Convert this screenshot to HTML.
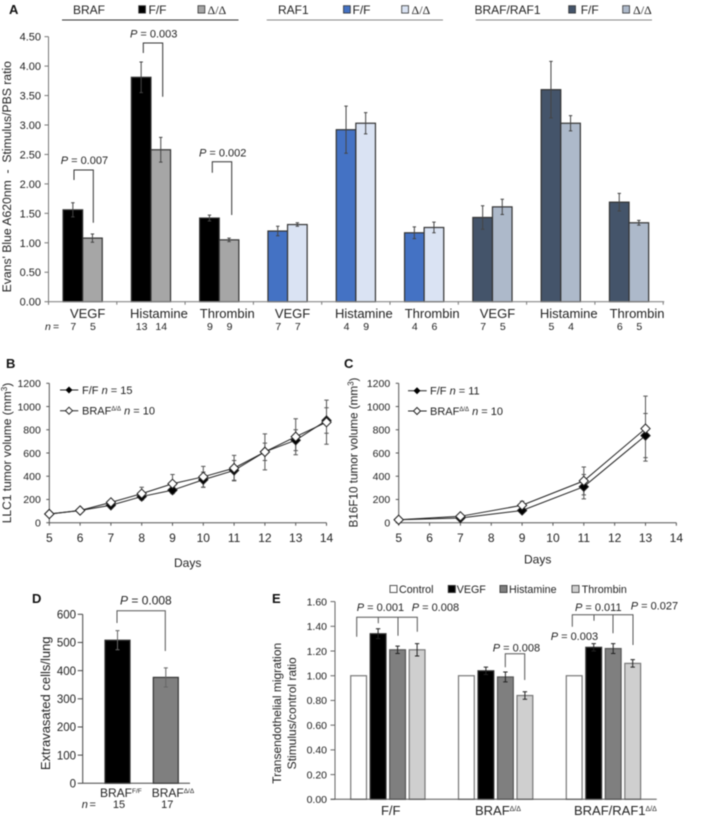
<!DOCTYPE html>
<html lang="en">
<head>
<meta charset="utf-8">
<title>BRAF and RAF1 vascular permeability figure</title>
<style>
html,body{margin:0;padding:0;background:#fff;}
svg{display:block;filter:blur(0.4px);}
text{font-family:"Liberation Sans",sans-serif;fill:#222;}
.lab{font-weight:bold;font-size:13px;fill:#111;}
.p{font-size:11px;}
.i{font-style:italic;}
.dl{font-family:"Liberation Serif",serif;}
.br{fill:none;stroke:#333;stroke-width:1;}
.brg{fill:none;stroke:#555;stroke-width:1;}
</style>
</head>
<body>
<svg id="fig" xmlns="http://www.w3.org/2000/svg" width="709" height="819" viewBox="0 0 709 819">
<g>
<text class="lab" x="9" y="14">A</text>
<text x="73" y="14" font-size="12">BRAF</text>
<rect x="138.7" y="5.7" width="6.8" height="7.4" fill="#000" stroke="#333" stroke-width="0.8"/>
<text x="148.5" y="14" font-size="12">F/F</text>
<rect x="198" y="5.7" width="6.8" height="7.4" fill="#a6a6a6" stroke="#333" stroke-width="0.8"/>
<text class="dl" x="207.5" y="14" font-size="12">Δ/Δ</text>
<line x1="62" y1="20" x2="238.5" y2="20" stroke="#333" stroke-width="1"/>
<text x="278" y="14" font-size="12">RAF1</text>
<rect x="343.5" y="5.7" width="6.8" height="7.4" fill="#4472c4" stroke="#333" stroke-width="0.8"/>
<text x="352.5" y="14" font-size="12">F/F</text>
<rect x="401.7" y="5.7" width="6.8" height="7.4" fill="#dae3f3" stroke="#333" stroke-width="0.8"/>
<text class="dl" x="411.5" y="14" font-size="12">Δ/Δ</text>
<line x1="266.7" y1="20" x2="443" y2="20" stroke="#888" stroke-width="1"/>
<text x="474.5" y="14" font-size="12">BRAF/RAF1</text>
<rect x="568.7" y="5.7" width="6.8" height="7.4" fill="#44546a" stroke="#333" stroke-width="0.8"/>
<text x="580.7" y="14" font-size="12">F/F</text>
<rect x="622.7" y="5.7" width="6.8" height="7.4" fill="#adb9ca" stroke="#333" stroke-width="0.8"/>
<text class="dl" x="633" y="14" font-size="12">Δ/Δ</text>
<line x1="475.7" y1="20" x2="652" y2="20" stroke="#888" stroke-width="1"/>
<text transform="translate(11,176.7) rotate(-90)" text-anchor="middle" font-size="12.2">Evans' Blue A620nm &#160;- &#160;Stimulus/PBS ratio</text>
<text class="p" x="60.7" y="164"><tspan class="i">P</tspan> = 0.007</text>
<path class="br" d="M74 180V170H93.3V222.7"/>
<text class="p" x="130" y="37.5"><tspan class="i">P</tspan> = 0.003</text>
<path class="br" d="M143.3 53V43H162.7V96.7"/>
<text class="p" x="199" y="156.5"><tspan class="i">P</tspan> = 0.002</text>
<path class="br" d="M212.3 172.7V161.7H231.7V215"/>
<text class="i" x="45" y="330" font-size="10.5">n</text>
<text x="53" y="330" font-size="10.5">=</text>
</g>
<g>
<text class="lab" x="6" y="368">B</text>
<text transform="translate(11,453) rotate(-90)" text-anchor="middle" font-size="12">LLC1 tumor volume (mm<tspan font-size="8" dy="-4">3</tspan><tspan dy="4">)</tspan></text>
<text x="187.7" y="567" text-anchor="middle" font-size="12">Days</text>
<line x1="60" y1="390" x2="78.3" y2="390" stroke="#222"/>
<path d="M69 386.5L72.5 390L69 393.5L65.5 390Z" fill="#000"/>
<text x="82" y="394" font-size="11">F/F <tspan class="i">n</tspan> = 15</text>
<line x1="60" y1="410.7" x2="78.3" y2="410.7" stroke="#222"/>
<path d="M69 407.2L72.5 410.7L69 414.2L65.5 410.7Z" fill="#fff" stroke="#222"/>
<text x="82" y="414.7" font-size="11">BRAF<tspan font-size="6" dy="-4">Δ/Δ</tspan><tspan dy="4"> </tspan><tspan class="i">n</tspan> = 10</text>
</g>
<g>
<text class="lab" x="344" y="368">C</text>
<text transform="translate(357.5,452.5) rotate(-90)" text-anchor="middle" font-size="11.7">B16F10 tumor volume (mm<tspan font-size="8" dy="-4">3</tspan><tspan dy="4">)</tspan></text>
<text x="537.7" y="563.5" text-anchor="middle" font-size="12">Days</text>
<line x1="408" y1="390.7" x2="426.7" y2="390.7" stroke="#222"/>
<path d="M417 387.2L420.5 390.7L417 394.2L413.5 390.7Z" fill="#000"/>
<text x="430" y="394.7" font-size="11">F/F <tspan class="i">n</tspan> = 11</text>
<line x1="408" y1="411" x2="426.7" y2="411" stroke="#222"/>
<path d="M417 407.5L420.5 411L417 414.5L413.5 411Z" fill="#fff" stroke="#222"/>
<text x="430" y="415" font-size="11">BRAF<tspan font-size="6" dy="-4">Δ/Δ</tspan><tspan dy="4"> </tspan><tspan class="i">n</tspan> = 10</text>
</g>
<g>
<text class="lab" x="32" y="603">D</text>
<text transform="translate(50,703.3) rotate(-90)" text-anchor="middle" font-size="13">Extravasated cells/lung</text>
<text x="120" y="604.5" font-size="12"><tspan class="i">P</tspan> = 0.008</text>
<path class="brg" d="M117 623V610.7H165.3V651"/>
<text class="i" x="81.7" y="808" font-size="11">n</text>
<text x="89.5" y="808" font-size="11">=</text>
</g>
<g>
<text class="lab" x="272" y="603">E</text>
<text transform="translate(281,713.3) rotate(-90)" text-anchor="middle" font-size="12">Transendothelial migration</text>
<text transform="translate(296,713.3) rotate(-90)" text-anchor="middle" font-size="12">Stimulus/control ratio</text>
<rect x="390" y="585.5" width="7" height="7" fill="#fff" stroke="#555"/>
<text x="399" y="593" font-size="10.7">Control</text>
<rect x="448.3" y="585.5" width="7" height="7" fill="#000" stroke="#333"/>
<text x="456.7" y="593" font-size="10.7">VEGF</text>
<rect x="500" y="585.5" width="7" height="7" fill="#7f7f7f" stroke="#444"/>
<text x="509" y="593" font-size="10.7">Histamine</text>
<rect x="572" y="585.5" width="7" height="7" fill="#cfcfcf" stroke="#555"/>
<text x="581.7" y="593" font-size="10.7">Thrombin</text>
<text class="p" x="356.7" y="611"><tspan class="i">P</tspan> = 0.001</text>
<text class="p" x="411.7" y="611"><tspan class="i">P</tspan> = 0.008</text>
<path class="brg" d="M356.7 636.7V617.3H417.3V631.7M378.3 617.3V623.3M398 617.3V635.7"/>
<text class="p" x="492.7" y="651.5"><tspan class="i">P</tspan> = 0.008</text>
<path class="brg" d="M505.3 667.3V653.7H524.7V680"/>
<text class="p" x="575" y="611"><tspan class="i">P</tspan> = 0.011</text>
<text class="p" x="630.7" y="609.7"><tspan class="i">P</tspan> = 0.027</text>
<text class="p" x="550.7" y="640"><tspan class="i">P</tspan> = 0.003</text>
<path class="brg" d="M572.3 626.7V614.7H633V645M594 614.7V620.7M613 614.7V633.3"/>
</g>
</svg>
<script>
// Panel A data
const aCategories = ['VEGF','Histamine','Thrombin','VEGF','Histamine','Thrombin','VEGF','Histamine','Thrombin'];
const aFF = [1.56,3.81,1.42,1.20,2.92,1.17,1.43,3.60,1.69];
const aDD = [1.08,2.58,1.05,1.31,3.03,1.26,1.61,3.03,1.34];
const aFFerr = [0.12,0.26,0.05,0.08,0.40,0.10,0.20,0.48,0.15];
const aDDerr = [0.07,0.21,0.03,0.03,0.18,0.09,0.13,0.13,0.04];
const aNFF = ['7','13','9','7','4','4','7','5','6'];
const aNDD = ['5','14','9','7','9','6','5','4','5'];
const aYTicks = ['0.00','0.50','1.00','1.50','2.00','2.50','3.00','3.50','4.00','4.50'];
// Panel B data
const bDays = [5,6,7,8,9,10,11,12,13,14];
const bFF = [75,105,150,225,280,370,450,610,710,880];
const bDD = [75,105,175,250,335,395,470,610,740,865];
const bFFerr = [0,0,15,30,30,65,85,75,90,110];
const bDDerr = [0,0,20,55,80,90,110,155,155,190];
const lineYTicks = ['0','200','400','600','800','1000','1200'];
const lineXTicks = ['5','6','7','8','9','10','11','12','13','14'];
// Panel C data
const cDays = [5,7,9,11,13];
const cFF = [25,40,105,310,750];
const cDD = [25,55,150,360,810];
const cFFerr = [0,10,20,105,190];
const cDDerr = [0,10,35,120,280];
// Panel D data
const dValues = [508,376];
const dErr = [34,34];
const dN = ['15','17'];
const dYTicks = ['0','100','200','300','400','500','600'];
// Panel E data
const eGroups = ['F/F','BRAF','BRAF/RAF1'];
const eControl = [1.00,1.00,1.00];
const eVEGF = [1.34,1.04,1.23];
const eHistamine = [1.21,0.99,1.22];
const eThrombin = [1.21,0.84,1.10];
const eVEGFerr = [0.04,0.03,0.03];
const eHistamineErr = [0.03,0.04,0.04];
const eThrombinErr = [0.05,0.03,0.03];
const eYTicks = ['0.00','0.20','0.40','0.60','0.80','1.00','1.20','1.40','1.60'];

const svg = document.getElementById('fig');
const NS = 'http://www.w3.org/2000/svg';
function mk(parent, tag, props, txt) {
  const el = document.createElementNS(NS, tag);
  for (const k in props) el.setAttribute(k, props[k]);
  if (txt !== undefined) el.textContent = txt;
  parent.appendChild(el);
  return el;
}
function grp(name) {
  const g = mk(svg, 'g', {});
  
  
  return g;
}
function bar(g, x, w, y0, yv, fill, stroke, name) {
  const el = mk(g, 'rect', {x: x, y: yv, width: w, height: y0 - yv, fill: fill, stroke: stroke, 'stroke-width': 1.2});
  
  
}
function err(g, x, yt, yb, cap, color, name) {
  const el = mk(g, 'path', {d: 'M' + (x - cap) + ' ' + yt + 'H' + (x + cap) + 'M' + x + ' ' + yt + 'V' + yb + 'M' + (x - cap) + ' ' + yb + 'H' + (x + cap), fill: 'none', stroke: color, 'stroke-width': 1});
  
  
}
function yAxis(g, labels, yf, ax, top, size, labelX, tickLen, color, name) {
  const line = mk(g, 'line', {x1: ax, y1: yf(parseFloat(labels[labels.length - 1])), x2: ax, y2: yf(parseFloat(labels[0])), stroke: color});
  
  
  labels.forEach(function (t) {
    const y = yf(parseFloat(t));
    const tick = mk(g, 'line', {x1: ax - tickLen, y1: y, x2: ax, y2: y, stroke: color});
    
    
    const lab = mk(g, 'text', {x: labelX, y: y + size * 0.36, 'text-anchor': 'end', 'font-size': size}, t);
    
    
  });
}
function txt(g, x, y, size, s, name, anchor) {
  const el = mk(g, 'text', {x: x, y: y, 'font-size': size, 'text-anchor': anchor || 'middle'}, s);
  
  
  return el;
}

// ---------- Panel A ----------
(function () {
  const g = grp('panel-a-chart');
  const y = function (v) { return 301.7 - v * 58.9; };
  const step = 68.3, x0 = 48.5, bw = 19.6;
  const cx = function (i) { return x0 + step * (i + 0.5); };
  const ffColors = ['#000000','#4472c4','#44546a'];
  const ddColors = ['#a6a6a6','#dae3f3','#adb9ca'];
  const labelOffset = {VEGF: 5, Histamine: 8, Thrombin: 8};
  aCategories.forEach(function (c, i) {
    const col = Math.floor(i / 3);
    const m = cx(i);
    bar(g, m - bw, bw, y(0), y(aFF[i]), ffColors[col], '#333', 'bar-ff-' + c.toLowerCase());
    bar(g, m, bw, y(0), y(aDD[i]), ddColors[col], '#333', 'bar-dd-' + c.toLowerCase());
    const errColor = '#444';
    err(g, m - bw / 2, y(aFF[i] + aFFerr[i]), y(aFF[i] - aFFerr[i]), 1.7, errColor, 'error-bar-ff-' + c.toLowerCase());
    err(g, m + bw / 2, y(aDD[i] + aDDerr[i]), y(aDD[i] - aDDerr[i]), 1.7, errColor, 'error-bar-dd-' + c.toLowerCase());
    txt(g, m + labelOffset[c], 318, 13, c, 'category-label');
    txt(g, m - bw / 2 + 0.5, 330, 10.5, aNFF[i], 'n-value-ff');
    txt(g, m + bw / 2 + 0.5, 330, 10.5, aNDD[i], 'n-value-dd');
  });
  yAxis(g, aYTicks, y, x0, 0, 11, 41, 4, '#777', 'panel-a');
  const base = mk(g, 'line', {x1: x0, y1: y(0), x2: x0 + step * aCategories.length + 1, y2: y(0), stroke: '#888', 'stroke-width': 1.2});
  
  
  for (let i = 0; i <= aCategories.length; i++) {
    const t = mk(g, 'line', {x1: x0 + step * i, y1: y(0), x2: x0 + step * i, y2: y(0) + 3, stroke: '#777'});
    
    
  }
})();

// ---------- Line panels ----------
function linePanel(name, x0, dayW, days, ff, dd, ffE, ddE) {
  const g = grp(name + '-chart');
  const y = function (v) { return 522.7 - v * 139.4 / 1200; };
  const x = function (d) { return x0 + (d - 5) * dayW; };
  yAxis(g, lineYTicks, y, x0, 0, 10.5, x0 - 8.5, 3, '#555', name);
  const base = mk(g, 'line', {x1: x0, y1: y(0), x2: x(14), y2: y(0), stroke: '#555'});
  
  
  lineXTicks.forEach(function (t) {
    const px = x(parseFloat(t));
    const tick = mk(g, 'line', {x1: px, y1: y(0), x2: px, y2: y(0) + 3, stroke: '#555'});
    
    
    txt(g, px, 542, 12, t, name + '-x-tick-label');
  });
  days.forEach(function (d, i) {
    if (ffE[i] > 0) err(g, x(d), y(ff[i] + ffE[i]), y(ff[i] - ffE[i]), 2.2, '#555', name + '-error-bar-ff');
    if (ddE[i] > 0) err(g, x(d), y(dd[i] + ddE[i]), y(dd[i] - ddE[i]), 2.2, '#555', name + '-error-bar-dd');
  });
  function series(vals, fill, label, r) {
    const pts = days.map(function (d, i) { return x(d) + ',' + y(vals[i]); }).join(' ');
    const line = mk(g, 'polyline', {points: pts, fill: 'none', stroke: '#222', 'stroke-width': 1});
    
    
    days.forEach(function (d, i) {
      const cx = x(d), cy = y(vals[i]);
      const pt = mk(g, 'path', {d: 'M' + cx + ' ' + (cy - r) + 'L' + (cx + r) + ' ' + cy + 'L' + cx + ' ' + (cy + r) + 'L' + (cx - r) + ' ' + cy + 'Z', fill: fill, stroke: '#222', 'stroke-width': 1});
      
      
    });
  }
  series(ff, '#000', 'ff', 4.6);
  series(dd, '#fff', 'dd', 4.6);
}
linePanel('panel-b', 49.3, 30.8, bDays, bFF, bDD, bFFerr, bDDerr);
linePanel('panel-c', 398.7, 30.85, cDays, cFF, cDD, cFFerr, cDDerr);

// ---------- Panel D ----------
(function () {
  const g = grp('panel-d-chart');
  const y = function (v) { return 783.3 - v * 169 / 600; };
  const colors = ['#000000','#7f7f7f'];
  const xs = [105, 153.3];
  dValues.forEach(function (v, i) {
    bar(g, xs[i], 25, y(0), y(v), colors[i], '#333', 'bar-panel-d-' + i);
    err(g, xs[i] + 12.5, y(v + dErr[i]), y(v - dErr[i]), 2, '#666', 'error-bar-panel-d-' + i);
    txt(g, xs[i] + 14, 808, 11, dN[i], 'panel-d-n-value');
  });
  yAxis(g, dYTicks, y, 82.7, 0, 11.5, 76, 5, '#444', 'panel-d');
  const base = mk(g, 'line', {x1: 82.7, y1: y(0), x2: 190, y2: y(0), stroke: '#444'});
  
  
  const l1 = txt(g, 100, 797, 12, 'BRAF', 'panel-d-x-label-ff', 'start');
  const s1 = mk(l1, 'tspan', {'font-size': 6.5, dy: -4}, 'F/F');
  
  
  const l2 = txt(g, 151.7, 797, 12, 'BRAF', 'panel-d-x-label-dd', 'start');
  const s2 = mk(l2, 'tspan', {'font-size': 6.5, dy: -4}, 'Δ/Δ');
  
  
})();

// ---------- Panel E ----------
(function () {
  const g = grp('panel-e-chart');
  const y = function (v) { return 799.3 - v * 197.7 / 1.6; };
  const left = 350.7, groupStep = 107.8, barStep = 19.5, bw = 15.8;
  const series = [
    {n: 'control', v: eControl, e: null, f: '#ffffff', s: '#777'},
    {n: 'vegf', v: eVEGF, e: eVEGFerr, f: '#000000', s: '#333'},
    {n: 'histamine', v: eHistamine, e: eHistamineErr, f: '#7f7f7f', s: '#555'},
    {n: 'thrombin', v: eThrombin, e: eThrombinErr, f: '#cfcfcf', s: '#777'}
  ];
  eGroups.forEach(function (name, gi) {
    series.forEach(function (s, si) {
      const x = left + gi * groupStep + si * barStep;
      bar(g, x, bw, y(0), y(s.v[gi]), s.f, s.s, 'bar-' + s.n);
      if (s.e) err(g, x + bw / 2, y(s.v[gi] + s.e[gi]), y(s.v[gi] - s.e[gi]), 2.2, '#222', 'error-bar-' + s.n);
    });
  });
  yAxis(g, eYTicks, y, 335, 0, 10.5, 327, 4.5, '#666', 'panel-e');
  const base = mk(g, 'line', {x1: 330.5, y1: y(0), x2: 656.7, y2: y(0), stroke: '#555'});
  
  
  txt(g, 390.7, 815, 13, eGroups[0], 'group-label-ff');
  const l2 = txt(g, 475, 815, 13, eGroups[1], 'group-label-braf', 'start');
  const s2 = mk(l2, 'tspan', {'font-size': 7, dy: -4}, 'Δ/Δ');
  
  
  const l3 = txt(g, 574, 815, 13, eGroups[2], 'group-label-braf-raf1', 'start');
  const s3 = mk(l3, 'tspan', {'font-size': 7, dy: -4}, 'Δ/Δ');
  
  
})();
</script>
</body>
</html>
